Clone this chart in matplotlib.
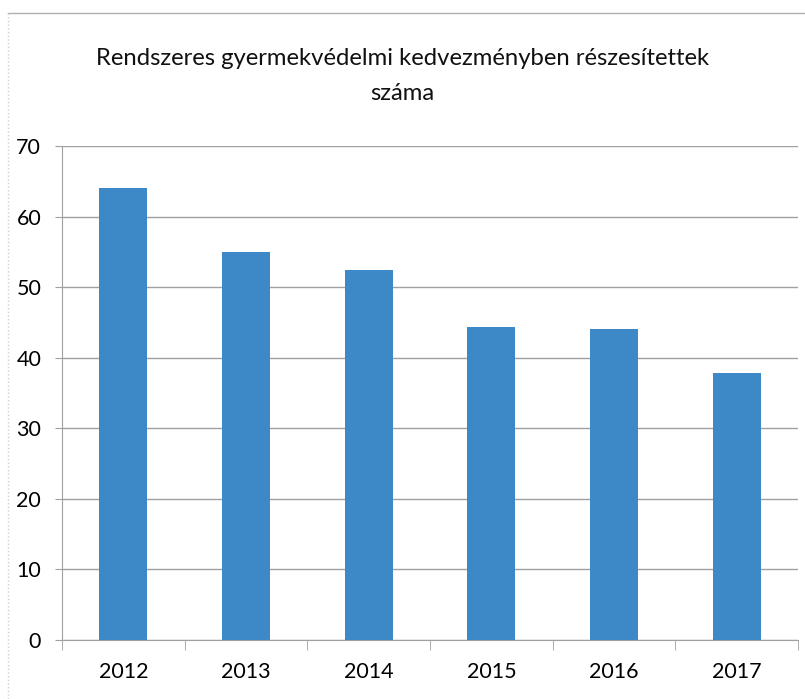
import matplotlib.pyplot as plt
from matplotlib.lines import Line2D

# =========================
# DATA
# =========================
years = ["2012", "2013", "2014", "2015", "2016", "2017"]
values = [64, 55, 52.5, 44.3, 44, 37.8]
title = "Rendszeres gyermekvédelmi kedvezményben részesítettek\nszáma"

plt.rcParams["font.family"] = ["Lato", "DejaVu Sans"]

# =========================
# PLOT
# =========================
fig = plt.figure(figsize=(8.05, 6.99), dpi=100)
ax = fig.add_axes([62 / 805, 1 - 640 / 699, 736 / 805, 494 / 699])

x = range(len(years))
ax.bar(x, values, width=0.39, color="#3D88C6", zorder=3)

ax.set_xlim(-0.5, len(years) - 0.5)
ax.set_ylim(0, 70)
ax.set_yticks(range(0, 71, 10))
ax.set_xticks(list(x))
ax.set_xticklabels(years)
ax.set_xticks([i - 0.5 for i in range(len(years) + 1)], minor=True)

ax.grid(axis="y", color="#a0a0a0", linewidth=1, zorder=0)
for s in ["top", "right"]:
    ax.spines[s].set_visible(False)
for s in ["left", "bottom"]:
    ax.spines[s].set_color("#a0a0a0")

ax.tick_params(axis="y", length=5, color="#a0a0a0", labelsize=15.5, pad=10)
ax.tick_params(axis="x", which="major", length=0, labelsize=15.5, pad=16)
ax.tick_params(axis="x", which="minor", length=7, color="#a0a0a0")

fig.text(0.5, 1 - 76 / 699, title, ha="center", va="center",
         fontsize=17.2, linespacing=1.85, color="#111111")

# chart area border
fig.add_artist(Line2D([8 / 805, 1], [1 - 13 / 699] * 2, color="#b0b0b0", lw=1))
fig.add_artist(Line2D([8 / 805] * 2, [0, 1 - 13 / 699], color="#d0d0d0", lw=1, ls=":"))

fig.savefig("out.png", dpi=100)
